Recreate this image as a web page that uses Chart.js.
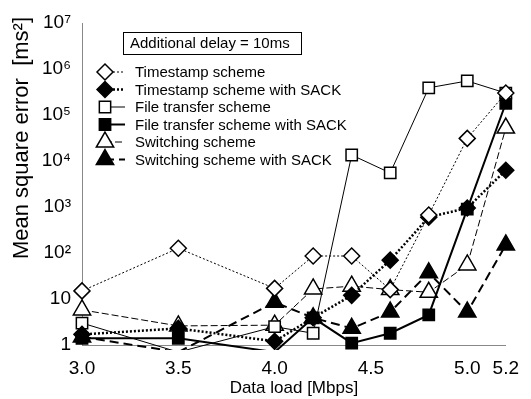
<!DOCTYPE html>
<html>
<head>
<meta charset="utf-8">
<script src="https://cdn.jsdelivr.net/npm/chart.js@4"></script>
<style>
  body { margin: 0; background: #fff; }
</style>
</head>
<body>
<canvas id="chart" width="531" height="399"></canvas>
<script>
// data
const loads = [3.0, 3.5, 4.0, 4.2, 4.4, 4.6, 4.8, 5.0, 5.2];
const timestamp = [15, 127, 17, 86, 86, 16, 670, 31000, 300000];
const timestampSack = [1.7, 2.3, 1.2, 3.9, 12, 70, 600, 950, 6300];
const fileTransfer = [3, 0.7, 2.5, 1.8, 13500, 5500, 390000, 550000, 300000];
const fileTransferSack = [1.4, 1.4, 0.7, 3.9, 1.1, 1.8, 4.5, 900, 180000];
const switching = [5.8, 2.6, 2.7, 16.5, 19, 16, 14, 55, 52000];
const switchingSack = [1.5, 0.7, 8.5, 3.9, 2.3, 5.2, 37, 5.2, 150];

const xTicks = [3.0, 3.5, 4.0, 4.5, 5.0, 5.2];
const yTicks = [1, 10, 100, 1000, 10000, 100000, 1000000, 10000000];
const yTickLabels = ["1", "10", "10²", "10³", "10⁴", "10⁵", "10⁶", "10⁷"];

const noteText = "Additional delay = 10ms";
const yTitle = "Mean square error  [ms²]";
const xTitle = "Data load [Mbps]";

const FONT = '"Liberation Sans", Arial, Helvetica, sans-serif';

function pts(values) {
  return values.map((v, i) => ({ x: loads[i], y: v }));
}

// hide markers that fall below the axis
function radius(r) {
  return c => (c.raw && c.raw.y < 1 ? 0 : r);
}

function series(label, values, style, filled, size, width, dash) {
  return {
    label: label,
    data: pts(values),
    borderColor: "#000",
    borderWidth: width,
    borderDash: dash,
    pointStyle: style,
    markerSize: size,
    pointRadius: radius(size),
    pointHoverRadius: radius(size),
    pointBorderWidth: 1.5,
    pointBorderColor: "#000",
    pointBackgroundColor: filled ? "#000" : "#fff",
    fill: false,
    tension: 0,
    clip: { left: 12, top: 12, right: 14, bottom: 5 }
  };
}

// 🏷️ note box, legend, y title
const overlay = {
  id: "overlay",
  afterDraw(chart) {
    const ctx = chart.ctx;
    ctx.save();
    ctx.font = "15px " + FONT;
    ctx.strokeStyle = "#000";
    ctx.lineWidth = 1;
    ctx.strokeRect(123.5, 32.5, 178, 22);
    ctx.fillStyle = "#000";
    ctx.textBaseline = "middle";
    ctx.textAlign = "left";
    ctx.fillText(noteText, 130, 44);

    chart.data.datasets.forEach((ds, i) => {
      const y = 72 + i * 17.5;
      ctx.strokeStyle = "#000";
      ctx.setLineDash(ds.borderDash || []);
      ctx.lineWidth = ds.borderWidth;
      ctx.beginPath();
      ctx.moveTo(105, y);
      ctx.lineTo(125, y);
      ctx.stroke();
      ctx.setLineDash([]);
      ctx.lineWidth = 1.5;
      ctx.fillStyle = ds.pointBackgroundColor;
      Chart.helpers.drawPoint(ctx, {
        pointStyle: ds.pointStyle,
        radius: ds.markerSize,
        borderWidth: 1.5,
        rotation: 0
      }, 105, y);
      ctx.fillStyle = "#000";
      ctx.fillText(ds.label, 135, y + 1);
    });

    ctx.font = "22px " + FONT;
    ctx.translate(22, 138);
    ctx.rotate(-Math.PI / 2);
    ctx.textAlign = "center";
    ctx.fillText(yTitle, 0, 0);
    ctx.restore();
  }
};

const ctx = document.getElementById("chart").getContext("2d");

new Chart(ctx, {
  type: "line",
  data: {
    datasets: [
      series("Timestamp scheme", timestamp, "rectRot", false, 8, 1, [2, 2]),
      series("Timestamp scheme with SACK", timestampSack, "rectRot", true, 8, 2.5, [2, 2]),
      series("File transfer scheme", fileTransfer, "rect", false, 8, 1, []),
      series("File transfer scheme with SACK", fileTransferSack, "rect", true, 8, 2, []),
      series("Switching scheme", switching, "triangle", false, 10, 1, [7, 3]),
      series("Switching scheme with SACK", switchingSack, "triangle", true, 10, 2, [9, 5])
    ]
  },
  options: {
    responsive: false,
    devicePixelRatio: 1,
    animation: false,
    layout: { padding: { top: 23, right: 16, left: 0, bottom: 0 } },
    plugins: {
      legend: { display: false },
      tooltip: { enabled: false }
    },
    scales: {
      x: {
        type: "linear",
        min: 3.0,
        max: 5.2,
        afterBuildTicks: s => { s.ticks = xTicks.map(v => ({ value: v })); },
        afterFit: s => { s.height = 54; },
        grid: { display: true, drawOnChartArea: false, drawTicks: false },
        border: { display: true, color: "#888", dash: [1, 1] },
        ticks: {
          autoSkip: false,
          maxRotation: 0,
          padding: 12,
          color: "#000",
          font: { family: FONT, size: 19 },
          callback: v => Number(v).toFixed(1)
        },
        title: {
          display: true,
          text: xTitle,
          color: "#000",
          padding: { top: 0, bottom: 0 },
          font: { family: FONT, size: 17 }
        }
      },
      y: {
        type: "logarithmic",
        min: 1,
        max: 10000000,
        afterBuildTicks: s => { s.ticks = yTicks.map(v => ({ value: v })); },
        afterFit: s => { s.width = 82; },
        grid: { display: true, drawOnChartArea: false, drawTicks: false },
        border: { display: true, color: "#888", dash: [1, 1] },
        ticks: {
          autoSkip: false,
          padding: 11,
          color: "#000",
          font: { family: FONT, size: 19 },
          callback: v => yTickLabels[Math.round(Math.log10(v))]
        }
      }
    }
  },
  plugins: [overlay]
});
</script>
</body>
</html>
